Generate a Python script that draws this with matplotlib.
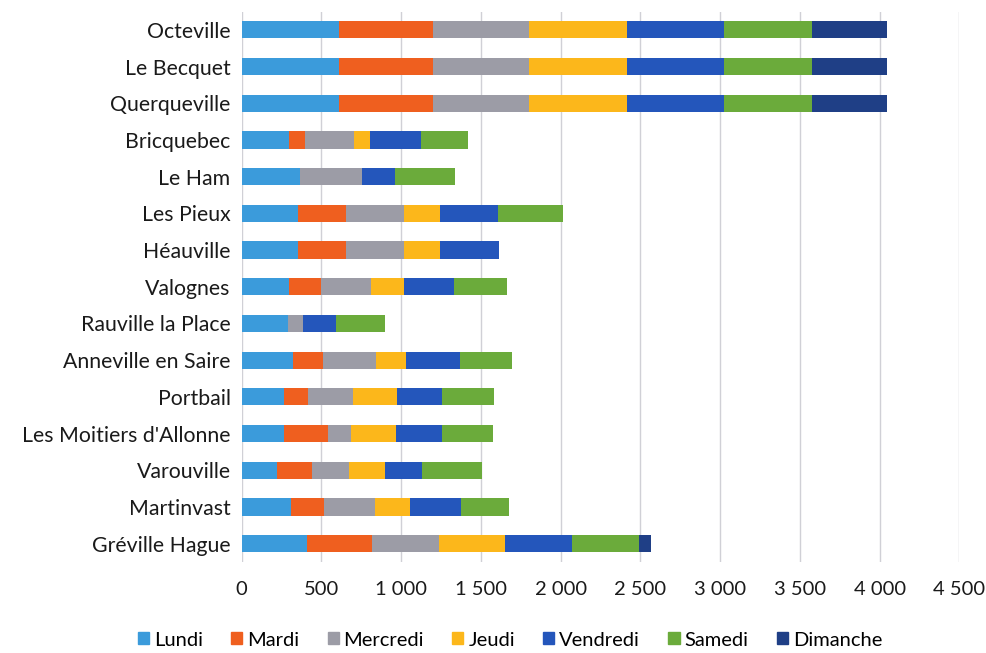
import matplotlib
matplotlib.use('Agg')
import matplotlib.pyplot as plt
import matplotlib.patches as mpatches
import numpy as np

plt.rcParams['font.family'] = ['Lato', 'DejaVu Sans']

communes = ['Octeville', 'Le Becquet', 'Querqueville', 'Bricquebec', 'Le Ham',
            'Les Pieux', 'Héauville', 'Valognes', 'Rauville la Place',
            'Anneville en Saire', 'Portbail', "Les Moitiers d'Allonne",
            'Varouville', 'Martinvast', 'Gréville Hague']
days = ['Lundi', 'Mardi', 'Mercredi', 'Jeudi', 'Vendredi', 'Samedi', 'Dimanche']

lundi    = [608, 608, 608, 297, 368, 356, 356, 299, 293, 320, 268, 268, 220, 308, 412]
mardi    = [593, 593, 593, 100,   0, 295, 295, 201,   0, 190, 148, 272, 221, 209, 406]
mercredi = [602, 602, 602, 310, 387, 364, 364, 310,  92, 329, 281, 148, 233, 320, 416]
jeudi    = [611, 611, 611, 100,   0, 226, 226, 209,   0, 192, 276, 281, 226, 217, 419]
vendredi = [611, 611, 611, 314, 207, 368, 372, 312, 209, 339, 282, 284, 230, 318, 420]
samedi   = [551, 551, 551, 297, 375, 406,   0, 334, 303, 325, 327, 322, 374, 304, 417]
dimanche = [468, 468, 468,   0,   0,   0,   0,   0,   0,   0,   0,   0,   0,   0,  73]

series = [lundi, mardi, mercredi, jeudi, vendredi, samedi, dimanche]
colors = ['#3b9bdb', '#ef5f1f', '#9c9ca6', '#fcb71b', '#2456bb', '#6bab3b', '#1f3f86']

fig = plt.figure(figsize=(9.87, 6.53), dpi=100)
ax = fig.add_axes([241.7 / 987, 1 - 562 / 653, (959.5 - 241.7) / 987, (562 - 11.5) / 653])

y = np.arange(len(communes))
left = np.zeros(len(communes))
for vals, c, d in zip(series, colors, days):
    ax.barh(y, vals, left=left, height=0.47, color=c, label=d, zorder=3)
    left += np.array(vals)

ax.set_xlim(0, 4500)
ax.set_ylim(len(communes) - 0.5, -0.5)
ax.set_xticks(np.arange(0, 4501, 500))
ax.set_xticklabels([f'{v:,}'.replace(',', ' ') for v in range(0, 4501, 500)],
                   fontsize=14.5, color='#1a1a1a')
ax.set_yticks(y)
ax.set_yticklabels(communes, fontsize=15.3, color='#1a1a1a')
ax.tick_params(length=0, pad=8)
ax.tick_params(axis='x', pad=14)
ax.grid(axis='x', color='#d0d0d6', lw=1, zorder=0)
for s in ax.spines.values():
    s.set_visible(False)

handles = [mpatches.Patch(color=c, label=d) for c, d in zip(colors, days)]
fig.legend(handles=handles, loc='center', bbox_to_anchor=(510 / 987, 1 - 640 / 653),
           ncol=7, frameon=False, fontsize=14.5, handlelength=0.55, handleheight=0.55,
           handletextpad=0.25, columnspacing=1.4)

fig.savefig('out.png', dpi=100)
